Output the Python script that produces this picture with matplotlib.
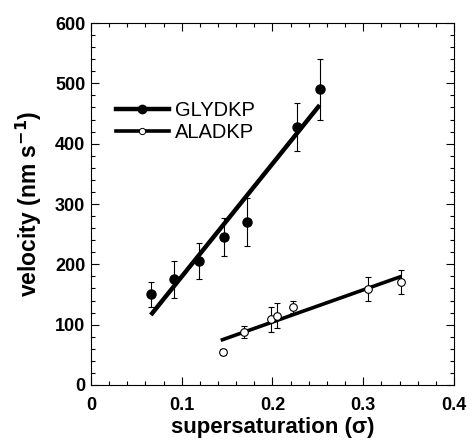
import numpy as np
import matplotlib
matplotlib.use("Agg")
import matplotlib.pyplot as plt
from matplotlib.lines import Line2D

plt.rcParams["font.family"] = ["Liberation Sans", "DejaVu Sans"]

# ====================================
# DATA
# ====================================

gly_x = [0.066, 0.092, 0.119, 0.147, 0.172, 0.227, 0.252]
gly_y = [150, 175, 205, 245, 270, 428, 490]
gly_err = [20, 31, 30, 31, 40, 40, 50]
gly_fit_x = [0.066, 0.252]
gly_fit_y = [116, 464]

ala_x = [0.145, 0.169, 0.198, 0.205, 0.223, 0.305, 0.342]
ala_y = [55, 88, 109, 115, 129, 159, 170]
ala_err = [5, 10, 21, 21, 10, 20, 20]
ala_fit_x = [0.143, 0.342]
ala_fit_y = [74, 180]

# ====================================
# PLOT
# ====================================

fig = plt.figure(figsize=(4.71, 4.43), dpi=100)
ax = fig.add_axes([0.193, 0.131, 0.771, 0.817])

ax.plot(gly_fit_x, gly_fit_y, color="black", lw=3.2, solid_capstyle="butt")
ax.plot(ala_fit_x, ala_fit_y, color="black", lw=2.6, solid_capstyle="butt")

ax.errorbar(gly_x, gly_y, yerr=gly_err, fmt="o", color="black", ms=6.5,
            ecolor="black", elinewidth=0.8, capsize=2.5, capthick=0.8)
ax.errorbar(ala_x, ala_y, yerr=ala_err, fmt="o", mfc="white", mec="black",
            mew=0.8, ms=5.5, ecolor="black", elinewidth=0.8, capsize=2.5, capthick=0.8)

ax.set_xlim(0, 0.4)
ax.set_ylim(0, 600)
ax.set_xticks([0, 0.1, 0.2, 0.3, 0.4])
ax.set_xticklabels(["0", "0.1", "0.2", "0.3", "0.4"])
ax.set_yticks([0, 100, 200, 300, 400, 500, 600])
ax.set_xticks(np.arange(0, 0.401, 0.02), minor=True)
ax.set_yticks(np.arange(0, 601, 20), minor=True)
ax.tick_params(which="both", direction="in", top=True, right=True, width=0.8)
ax.tick_params(which="major", length=6, labelsize=13)
ax.tick_params(axis="x", which="major", pad=8.5)
ax.tick_params(axis="y", which="major", pad=4)
ax.tick_params(which="minor", length=3)
for lab in ax.get_xticklabels() + ax.get_yticklabels():
    lab.set_fontweight("bold")
for s in ax.spines.values():
    s.set_linewidth(0.8)

ax.set_xlabel("supersaturation (σ)", fontsize=16, fontweight="bold", labelpad=2)
ax.set_ylabel("velocity (nm s$^{\\mathbf{-1}}$)", fontsize=16.5, fontweight="bold", labelpad=8)

handles = [
    Line2D([], [], color="black", lw=3.2, marker="o", ms=6),
    Line2D([], [], color="black", lw=2.6, marker="o", ms=4.5, mfc="white", mew=0.7),
]
ax.legend(handles, ["GLYDKP", "ALADKP"], loc="upper left",
          bbox_to_anchor=(0.02, 0.835), frameon=False, fontsize=14.5,
          handlelength=2.6, handletextpad=0.3, labelspacing=0.15)

plt.savefig("out.png", dpi=100)
